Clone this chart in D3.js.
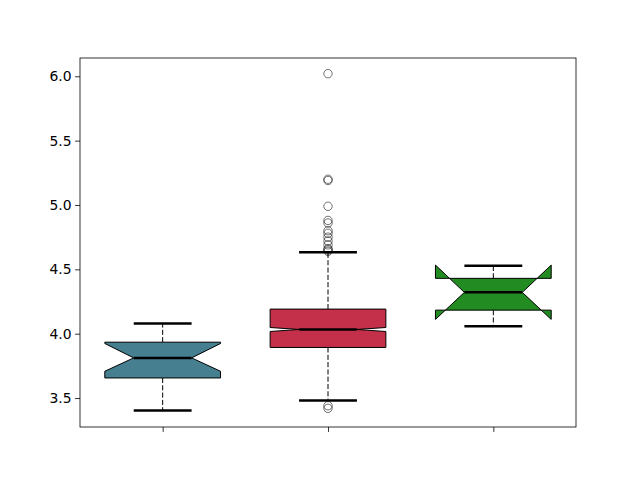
<!DOCTYPE html>
<html lang="en">
<head>
  <meta charset="UTF-8">
  <title>Notched boxplot</title>
  <script src="https://d3js.org/d3.v7.min.js"></script>
  <style>
    body { margin: 0; background: #fff; }
  </style>
</head>
<body>
  <div id="chart"></div>
  <script>
    // box statistics per group
    const groups = [1, 2, 3];
    const q1 = [3.656, 3.893, 4.183];
    const medians = [3.812, 4.033, 4.321];
    const q3 = [3.934, 4.191, 4.430];
    const notchLo = [3.708, 4.017, 4.111];
    const notchHi = [3.924, 4.048, 4.533];
    const whiskerLo = [3.403, 3.480, 4.058];
    const whiskerHi = [4.079, 4.632, 4.528];
    const fliers = [
      [],
      [6.02, 5.20, 5.19, 4.99, 4.88, 4.86, 4.80, 4.78, 4.75, 4.72, 4.69, 4.66, 4.65, 4.64, 3.44, 3.42],
      []
    ];
    const boxColors = ["#457f90", "#c4304a", "#228b22"];
    const yTicks = [3.5, 4.0, 4.5, 5.0, 5.5, 6.0];

    const width = 640, height = 480;
    const margin = { top: 58, right: 64, bottom: 53, left: 80 };

    const svg = d3.select("#chart").append("svg")
      .attr("width", width)
      .attr("height", height)
      .style("font-family", "DejaVu Sans, sans-serif");

    const x = d3.scaleLinear().domain([0.5, 3.5]).range([margin.left, width - margin.right]);
    const y = d3.scaleLinear().domain([3.275, 6.142]).range([height - margin.bottom, margin.top]);

    const boxW = 0.7;      // box width in data units
    const capW = boxW / 2; // cap width

    const g = svg.append("g");

    groups.forEach((pos, i) => {
      const l = x(pos - boxW / 2), r = x(pos + boxW / 2);
      const inset = (r - l) / 4;
      const cx = x(pos);

      // whiskers (dashed)
      g.append("line")
        .attr("x1", cx).attr("x2", cx)
        .attr("y1", y(q3[i])).attr("y2", y(whiskerHi[i]))
        .attr("stroke", "black").attr("stroke-dasharray", "5.1,2.2");
      g.append("line")
        .attr("x1", cx).attr("x2", cx)
        .attr("y1", y(q1[i])).attr("y2", y(whiskerLo[i]))
        .attr("stroke", "black").attr("stroke-dasharray", "5.1,2.2");

      // notched box
      const pts = [
        [l, y(q1[i])], [l, y(notchLo[i])], [l + inset, y(medians[i])], [l, y(notchHi[i])], [l, y(q3[i])],
        [r, y(q3[i])], [r, y(notchHi[i])], [r - inset, y(medians[i])], [r, y(notchLo[i])], [r, y(q1[i])]
      ];
      g.append("path")
        .attr("d", d3.line()(pts) + "Z")
        .attr("fill", boxColors[i])
        .attr("stroke", "black")
        .attr("stroke-width", 1)
        .attr("stroke-linejoin", "miter");

      // caps
      [whiskerHi[i], whiskerLo[i]].forEach(v => {
        g.append("line")
          .attr("x1", x(pos - capW / 2)).attr("x2", x(pos + capW / 2))
          .attr("y1", y(v)).attr("y2", y(v))
          .attr("stroke", "black").attr("stroke-width", 2.5);
      });

      // median
      g.append("line")
        .attr("x1", l + inset).attr("x2", r - inset)
        .attr("y1", y(medians[i])).attr("y2", y(medians[i]))
        .attr("stroke", "black").attr("stroke-width", 2.5);

      // outliers
      g.selectAll(null)
        .data(fliers[i])
        .join("circle")
        .attr("cx", cx)
        .attr("cy", d => y(d))
        .attr("r", 4.2)
        .attr("fill", "none")
        .attr("stroke", "black")
        .attr("stroke-opacity", 0.55)
        .attr("stroke-width", 1);
    });

    // axes
    const yAxis = svg.append("g")
      .attr("transform", `translate(${margin.left},0)`)
      .call(d3.axisLeft(y).tickValues(yTicks).tickFormat(d3.format(".1f")).tickSizeOuter(0).tickSize(4.9).tickPadding(3.5));
    const xAxis = svg.append("g")
      .attr("transform", `translate(0,${height - margin.bottom})`)
      .call(d3.axisBottom(x).tickValues(groups).tickFormat("").tickSizeOuter(0).tickSize(4.9));

    [yAxis, xAxis].forEach(a => {
      a.select(".domain").remove();
      a.selectAll("line").attr("stroke", "black").attr("stroke-width", 0.8);
      a.selectAll("text").attr("font-size", 13.9).attr("fill", "black").attr("font-family", "DejaVu Sans, sans-serif");
    });

    // frame
    svg.append("rect")
      .attr("x", margin.left).attr("y", margin.top)
      .attr("width", width - margin.left - margin.right)
      .attr("height", height - margin.top - margin.bottom)
      .attr("fill", "none").attr("stroke", "black").attr("stroke-width", 0.8);
  </script>
</body>
</html>
